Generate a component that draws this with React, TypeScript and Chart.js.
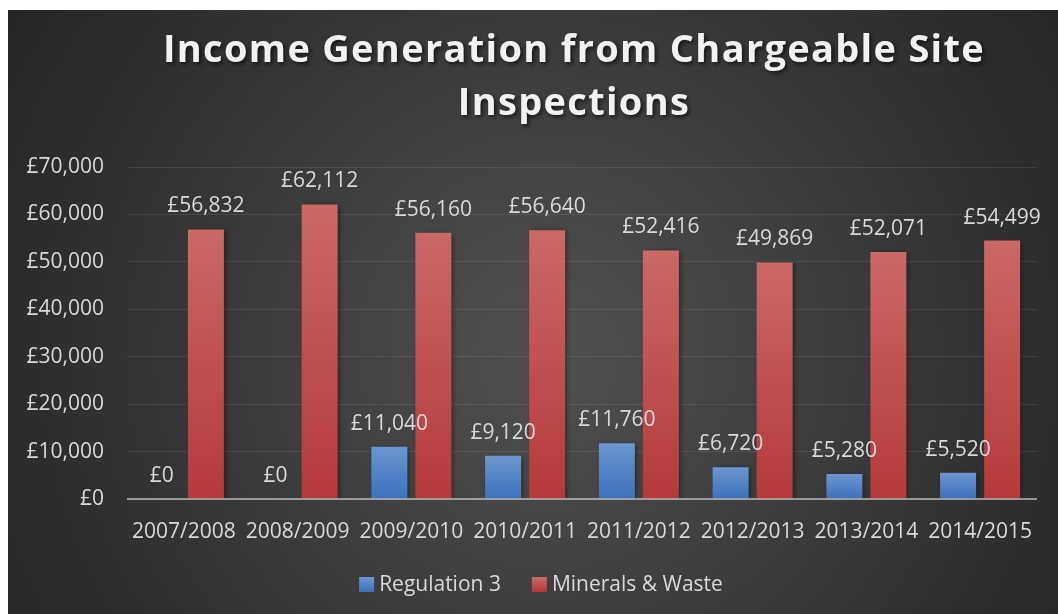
import React, { useEffect, useRef } from "react";
import { Chart, registerables } from "chart.js";

Chart.register(...registerables);

const titleLines = ["Income Generation from Chargeable Site", "Inspections"];
const categories = ["2007/2008", "2008/2009", "2009/2010", "2010/2011", "2011/2012", "2012/2013", "2013/2014", "2014/2015"];
const regulation3 = [0, 0, 11040, 9120, 11760, 6720, 5280, 5520];
const mineralsWaste = [56832, 62112, 56160, 56640, 52416, 49869, 52071, 54499];
const seriesNames = ["Regulation 3", "Minerals & Waste"];
const yMax = 70000;
const yStep = 10000;

const FONT = "'Open Sans', 'DejaVu Sans', sans-serif";
const TEXT = "#d9d9d9";
const BLUE = ["#6c96d0", "#3c71bb"];
const RED = ["#ca6967", "#b5393a"];

const fmt = (v: number) => "£" + Math.round(v).toLocaleString("en-GB");

function gradFill(colors: string[]) {
  return (ctx: any) => {
    const chart = ctx.chart;
    const y = chart.scales && chart.scales.y;
    if (!y || ctx.type !== "data") return colors[1];
    const v = typeof ctx.raw === "number" ? ctx.raw : 0;
    const top = y.getPixelForValue(v);
    const base = y.getPixelForValue(0);
    if (!isFinite(top) || !isFinite(base) || Math.abs(base - top) < 1) return colors[1];
    const g = chart.ctx.createLinearGradient(0, top, 0, base);
    g.addColorStop(0, colors[0]);
    g.addColorStop(1, colors[1]);
    return g;
  };
}

const decorPlugin = {
  id: "decor",
  beforeDraw(chart: any) {
    const { ctx, width, height } = chart;
    ctx.save();
    const g = ctx.createRadialGradient(540, 340, 0, 540, 340, 640);
    g.addColorStop(0, "#505050");
    g.addColorStop(1, "#242424");
    ctx.fillStyle = g;
    ctx.fillRect(0, 0, width, height);
    // title
    ctx.font = `bold 38px ${FONT}`;
    ctx.textAlign = "center";
    ctx.textBaseline = "alphabetic";
    try { (ctx as any).letterSpacing = "1.3px"; } catch (e) {}
    ctx.shadowColor = "rgba(0,0,0,0.65)";
    ctx.shadowBlur = 4;
    ctx.shadowOffsetX = 2;
    ctx.shadowOffsetY = 2;
    ctx.fillStyle = "#f2f2f2";
    titleLines.forEach((t, i) => ctx.fillText(t, 566, 52 + i * 53));
    ctx.restore();
    // legend
    ctx.save();
    ctx.font = `21px ${FONT}`;
    ctx.textBaseline = "middle";
    ctx.textAlign = "left";
    const cols = [BLUE, RED];
    const widths = seriesNames.map((n) => ctx.measureText(n).width);
    const total = widths.reduce((a, w) => a + 15 + 5 + w, 0) + 31 * (seriesNames.length - 1);
    let x = 533 - total / 2;
    const yMid = 574.5;
    seriesNames.forEach((n, i) => {
      const lg = ctx.createLinearGradient(0, yMid - 7.5, 0, yMid + 7.5);
      lg.addColorStop(0, cols[i][0]);
      lg.addColorStop(1, cols[i][1]);
      ctx.fillStyle = lg;
      ctx.fillRect(x, yMid - 7.5, 15, 15);
      ctx.fillStyle = TEXT;
      ctx.fillText(n, x + 20, yMid + 1);
      x += 15 + 5 + widths[i] + 31;
    });
    ctx.restore();
  },
  beforeDatasetsDraw(chart: any) {
    const ctx = chart.ctx;
    ctx.save();
    ctx.shadowColor = "rgba(0,0,0,0.45)";
    ctx.shadowBlur = 5;
    ctx.shadowOffsetX = 2;
    ctx.shadowOffsetY = 1;
  },
  afterDatasetsDraw(chart: any) {
    const ctx = chart.ctx;
    ctx.restore();
    const y = chart.scales.y;
    const area = chart.chartArea;
    const y0 = y.getPixelForValue(0);
    ctx.save();
    ctx.strokeStyle = "rgba(215,215,215,0.6)";
    ctx.lineWidth = 2;
    ctx.beginPath();
    ctx.moveTo(area.left, y0);
    ctx.lineTo(area.right, y0);
    ctx.stroke();
    ctx.font = `21px ${FONT}`;
    ctx.fillStyle = TEXT;
    ctx.textAlign = "center";
    ctx.textBaseline = "alphabetic";
    chart.data.datasets.forEach((ds: any, di: number) => {
      const meta = chart.getDatasetMeta(di);
      meta.data.forEach((el: any, i: number) => {
        ctx.fillText(fmt(ds.data[i]), el.x, el.y - 17);
      });
    });
    ctx.restore();
  },
};

export default function App() {
  const ref = useRef<HTMLCanvasElement | null>(null);
  useEffect(() => {
    if (!ref.current) return;
    const chart = new Chart(ref.current, {
      type: "bar",
      data: {
        labels: categories,
        datasets: [
          { label: seriesNames[0], data: regulation3, backgroundColor: gradFill(BLUE), borderWidth: 0 },
          { label: seriesNames[1], data: mineralsWaste, backgroundColor: gradFill(RED), borderWidth: 0 },
        ],
      },
      options: {
        responsive: false,
        animation: false,
        datasets: { bar: { categoryPercentage: 0.774, barPercentage: 0.818 } },
        layout: { padding: { top: 157, left: 0, right: 21, bottom: 65 } },
        plugins: { legend: { display: false }, title: { display: false }, tooltip: { enabled: false } },
        scales: {
          x: {
            grid: { display: false },
            border: { display: false },
            ticks: { color: TEXT, font: { family: FONT, size: 21 }, padding: 12, maxRotation: 0, autoSkip: false },
            afterFit: (s: any) => { s.height = 50; },
          },
          y: {
            min: 0,
            max: yMax,
            grid: { color: "rgba(255,255,255,0.09)", lineWidth: 1, drawTicks: false },
            border: { display: false },
            ticks: { stepSize: yStep, color: TEXT, font: { family: FONT, size: 21 }, padding: 23, callback: (v: any) => fmt(Number(v)) },
            afterFit: (s: any) => { s.width = 119; },
          },
        },
      },
      plugins: [decorPlugin],
    });
    return () => chart.destroy();
  }, []);
  return (
    <div style={{ position: "fixed", left: 8, top: 10, width: 1050, height: 604 }}>
      <canvas ref={ref} width={1050} height={604} style={{ width: 1050, height: 604, display: "block" }} />
    </div>
  );
}
